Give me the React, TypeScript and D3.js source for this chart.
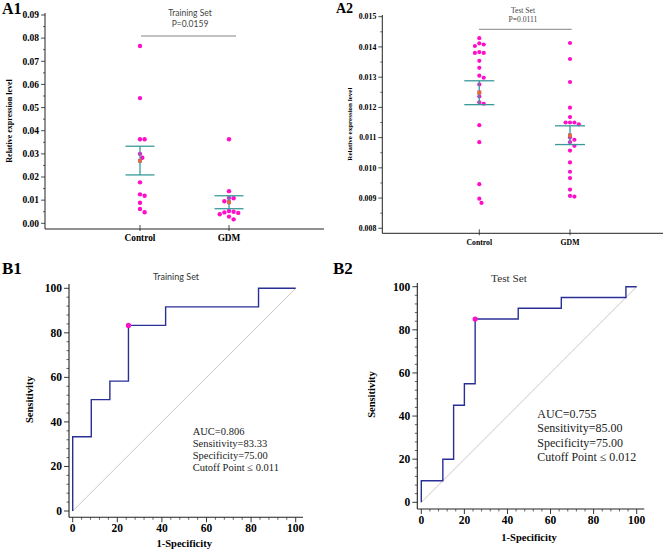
import React from "react";
import * as d3 from "d3";

// ---------- DATA ----------
const categories = ["Control", "GDM"];

// A1 – Training set relative expression
const trainControl = [0.0766, 0.0541, 0.0363, 0.0363, 0.03, 0.0283, 0.0177, 0.0125, 0.0119, 0.0089, 0.0062, 0.0048];
const trainGDM = [0.0363, 0.0139, 0.011, 0.0108, 0.0095, 0.0053, 0.005, 0.0047, 0.0045, 0.0039, 0.0029, 0.0017];
const trainCI = [
  [0.0209, 0.0333],
  [0.0063, 0.0119],
];
const trainYTicks = [0, 0.01, 0.02, 0.03, 0.04, 0.05, 0.06, 0.07, 0.08, 0.09];

// A2 – Test set relative expression
const testControl = [
  0.01429, 0.01412, 0.01408, 0.01403, 0.01383, 0.0138, 0.0138, 0.01354, 0.01331, 0.01305,
  0.01298, 0.01276, 0.01236, 0.01217, 0.01212, 0.01141, 0.01085, 0.00946, 0.00898, 0.00884,
];
const testGDM = [
  0.01413, 0.0136, 0.01284, 0.01199, 0.01168, 0.0115, 0.0115, 0.0115, 0.01144, 0.011,
  0.01093, 0.01085, 0.01073, 0.01057, 0.01018, 0.00987, 0.00966, 0.00928, 0.00907, 0.00905,
];
const testCI = [
  [0.01209, 0.01288],
  [0.01077, 0.01139],
];
const testYTicks = [0.008, 0.009, 0.01, 0.011, 0.012, 0.013, 0.014, 0.015];

// B1 – ROC training
const roc1FPR = [0, 0, 8.33, 8.33, 16.67, 16.67, 25, 25, 41.67, 41.67, 83.33, 83.33, 100];
const roc1TPR = [0, 33.33, 33.33, 50, 50, 58.33, 58.33, 83.33, 83.33, 91.67, 91.67, 100, 100];
const roc1Cut = [25, 83.33];
const roc1Text = ["AUC=0.806", "Sensitivity=83.33", "Specificity=75.00", "Cutoff Point \u2264 0.011"];

// B2 – ROC test
const roc2FPR = [0, 0, 10, 10, 15, 15, 20, 20, 25, 25, 45, 45, 65, 65, 95, 95, 100];
const roc2TPR = [0, 10, 10, 20, 20, 45, 45, 55, 55, 85, 85, 90, 90, 95, 95, 100, 100];
const roc2Cut = [25, 85];
const roc2Text = ["AUC=0.755", "Sensitivity=85.00", "Specificity=75.00", "Cutoff Point \u2264 0.012"];

const rocTicks = [0, 20, 40, 60, 80, 100];

// ---------- STYLE ----------
const SERIF = "'Liberation Serif', 'Times New Roman', serif";
const SANS = "Lato, 'Open Sans', sans-serif";
const PINK = "#ff0fc8";
const TEAL = "#3a9a9a";
const ORANGE = "#f06a1c";
const NAVY = "#2a2f96";

function swarm(values: number[], y: (v: number) => number, r: number) {
  const idx = values.map((v, i) => i).sort((a, b) => values[b] - values[a]);
  const placed: { x: number; y: number }[] = [];
  const out: number[] = new Array(values.length).fill(0);
  const step = r * 2.1;
  for (const i of idx) {
    const py = y(values[i]);
    const cands = [0];
    for (let k = 1; k < 8; k++) cands.push(k * step * 0.5, -k * step * 0.5);
    let chosen = 0;
    for (const c of cands) {
      if (placed.every((p) => Math.hypot(p.x - c, p.y - py) >= step * 0.98)) {
        chosen = c;
        break;
      }
    }
    placed.push({ x: chosen, y: py });
    out[i] = chosen;
  }
  return out;
}

type DotProps = {
  label: string;
  labelX: number;
  labelY: number;
  labelSize: number;
  groups: number[][];
  ci: number[][];
  yDomain: [number, number];
  yRange: [number, number];
  yTicks: number[];
  fmt: string;
  axisX: number;
  axisTop: number;
  axisY: number;
  axisRight: number;
  catX: [number, number];
  tickFont: number;
  catFont: number;
  titleFont: number;
  titleX: number;
  title: string[];
  titleY: number[];
  titleFamily: string;
  titleSize: number;
  titleCX: number;
  sigY: number;
  sigX: [number, number];
  r: number;
  capHalf: number;
};

function DotPanel(p: DotProps) {
  const y = d3.scaleLinear().domain(p.yDomain).range(p.yRange);
  const x = d3.scalePoint<string>().domain(categories).range(p.catX);
  const f = d3.format(p.fmt);
  const step = p.yTicks[1] - p.yTicks[0];
  const minor = p.yTicks.slice(0, -1).map((t) => t + step / 2);
  return (
    <g>
      <text x={p.labelX} y={p.labelY} fontFamily={SERIF} fontWeight="bold" fontSize={p.labelSize}>
        {p.label}
      </text>
      {/* axes */}
      <line x1={p.axisX} x2={p.axisX} y1={p.axisTop} y2={p.axisY} stroke="#222" strokeWidth={1} />
      <line x1={p.axisX} x2={p.axisRight} y1={p.axisY} y2={p.axisY} stroke="#222" strokeWidth={1} />
      {p.yTicks.map((t) => (
        <g key={t}>
          <line x1={p.axisX - 4} x2={p.axisX} y1={y(t)} y2={y(t)} stroke="#222" strokeWidth={0.8} />
          <text
            x={p.axisX - 6}
            y={y(t)}
            dy="0.35em"
            textAnchor="end"
            fontFamily={SERIF}
            fontWeight="bold"
            fontSize={p.tickFont}
          >
            {f(t)}
          </text>
        </g>
      ))}
      {minor.map((t) => (
        <line key={t} x1={p.axisX - 2} x2={p.axisX} y1={y(t)} y2={y(t)} stroke="#222" strokeWidth={0.7} />
      ))}
      {categories.map((c) => (
        <g key={c}>
          <line x1={x(c)} x2={x(c)} y1={p.axisY - 4} y2={p.axisY + 2} stroke="#222" strokeWidth={0.8} />
          <text
            x={x(c)}
            y={p.axisY + 9}
            dy="0.35em"
            textAnchor="middle"
            fontFamily={SERIF}
            fontWeight="bold"
            fontSize={p.catFont}
          >
            {c}
          </text>
        </g>
      ))}
      <text
        transform={`translate(${p.titleX},${(p.axisTop + p.axisY) / 2}) rotate(-90)`}
        textAnchor="middle"
        dy="0.35em"
        fontFamily={SERIF}
        fontWeight="bold"
        fontSize={p.titleFont}
      >
        Relative expression level
      </text>
      {/* significance */}
      {p.title.map((t, i) => (
        <text
          key={t}
          x={p.titleCX}
          y={p.titleY[i]}
          dy="0.35em"
          textAnchor="middle"
          fontFamily={p.titleFamily}
          fontSize={p.titleSize}
          fill="#444"
        >
          {t}
        </text>
      ))}
      <line x1={p.sigX[0]} x2={p.sigX[1]} y1={p.sigY} y2={p.sigY} stroke="#777" strokeWidth={0.9} />
      {/* points */}
      {p.groups.map((vals, gi) => {
        const cx = x(categories[gi]) as number;
        const offs = swarm(vals, y, p.r);
        const mean = d3.mean(vals) as number;
        const [lo, hi] = p.ci[gi];
        return (
          <g key={gi}>
            {vals.map((v, i) => (
              <circle key={i} cx={cx + offs[i]} cy={y(v)} r={p.r} fill={PINK} />
            ))}
            <line x1={cx} x2={cx} y1={y(hi)} y2={y(lo)} stroke={TEAL} strokeWidth={1.3} />
            <line x1={cx - p.capHalf} x2={cx + p.capHalf} y1={y(hi)} y2={y(hi)} stroke={TEAL} strokeWidth={1.3} />
            <line x1={cx - p.capHalf} x2={cx + p.capHalf} y1={y(lo)} y2={y(lo)} stroke={TEAL} strokeWidth={1.3} />
            <rect x={cx - 1.8} y={y(mean) - 1.8} width={3.6} height={3.6} fill={ORANGE} stroke="#a0509a" strokeWidth={0.4} />
          </g>
        );
      })}
    </g>
  );
}

type RocProps = {
  label: string;
  labelX: number;
  labelY: number;
  fpr: number[];
  tpr: number[];
  cut: number[];
  text: string[];
  xRange: [number, number];
  yRange: [number, number];
  axisX: number;
  axisY: number;
  axisTop: number;
  axisRight: number;
  title: string;
  titleFamily: string;
  titleSize: number;
  titleX: number;
  titleY: number;
  tickFont: number;
  axisFont: number;
  textX: number;
  textY: number;
  textGap: number;
  textSize: number;
  ylabX: number;
  xlabY: number;
};

function RocPanel(p: RocProps) {
  const x = d3.scaleLinear().domain([0, 100]).range(p.xRange);
  const y = d3.scaleLinear().domain([0, 100]).range(p.yRange);
  const minor = d3.range(0, 101, 4).filter((v) => v % 20 !== 0);
  const line = d3
    .line<number>()
    .x((_, i) => x(p.fpr[i]))
    .y((_, i) => y(p.tpr[i]));
  return (
    <g>
      <text x={p.labelX} y={p.labelY} fontFamily={SERIF} fontWeight="bold" fontSize={17}>
        {p.label}
      </text>
      <text x={p.titleX} y={p.titleY} dy="0.35em" textAnchor="middle" fontFamily={p.titleFamily} fontSize={p.titleSize} fill="#333">
        {p.title}
      </text>
      <line x1={p.axisX} x2={p.axisX} y1={p.axisTop} y2={p.axisY} stroke="#222" strokeWidth={1.1} />
      <line x1={p.axisX} x2={p.axisRight} y1={p.axisY} y2={p.axisY} stroke="#222" strokeWidth={1.1} />
      {rocTicks.map((t) => (
        <g key={t}>
          <line x1={p.axisX - 5} x2={p.axisX} y1={y(t)} y2={y(t)} stroke="#222" strokeWidth={0.9} />
          <text x={p.axisX - 7} y={y(t)} dy="0.35em" textAnchor="end" fontFamily={SERIF} fontWeight="bold" fontSize={p.tickFont}>
            {t}
          </text>
          <line x1={x(t)} x2={x(t)} y1={p.axisY} y2={p.axisY + 5} stroke="#222" strokeWidth={0.9} />
          <text x={x(t)} y={p.axisY + 11} dy="0.35em" textAnchor="middle" fontFamily={SERIF} fontWeight="bold" fontSize={p.tickFont}>
            {t}
          </text>
        </g>
      ))}
      {minor.map((t) => (
        <g key={t}>
          <line x1={p.axisX - 2.5} x2={p.axisX} y1={y(t)} y2={y(t)} stroke="#222" strokeWidth={0.7} />
          <line x1={x(t)} x2={x(t)} y1={p.axisY} y2={p.axisY + 2.5} stroke="#222" strokeWidth={0.7} />
        </g>
      ))}
      <text x={(p.xRange[0] + p.xRange[1]) / 2} y={p.xlabY} dy="0.35em" textAnchor="middle" fontFamily={SERIF} fontWeight="bold" fontSize={p.axisFont}>
        1-Specificity
      </text>
      <text
        transform={`translate(${p.ylabX},${(p.yRange[0] + p.yRange[1]) / 2}) rotate(-90)`}
        textAnchor="middle"
        dy="0.35em"
        fontFamily={SERIF}
        fontWeight="bold"
        fontSize={p.axisFont}
      >
        Sensitivity
      </text>
      <line x1={x(0)} y1={y(0)} x2={x(100)} y2={y(100)} stroke="#cbbcbc" strokeWidth={0.9} />
      <path d={line(p.fpr) || ""} fill="none" stroke={NAVY} strokeWidth={1.4} />
      <circle cx={x(p.cut[0])} cy={y(p.cut[1])} r={2.6} fill={PINK} />
      {p.text.map((t, i) => (
        <text key={t} x={p.textX} y={p.textY + i * p.textGap} dy="0.35em" fontFamily={SERIF} fontSize={p.textSize} fill="#222">
          {t}
        </text>
      ))}
    </g>
  );
}

export default function App() {
  return (
    <svg
      width={669}
      height={553}
      viewBox="0 0 669 553"
      style={{ position: "absolute", left: 0, top: 0, background: "#fff" }}
    >
      <rect width={669} height={553} fill="#fff" />
      <DotPanel
        label="A1"
        labelX={2}
        labelY={14}
        labelSize={16}
        groups={[trainControl, trainGDM]}
        ci={trainCI}
        yDomain={[0, 0.09]}
        yRange={[223.3, 15]}
        yTicks={trainYTicks}
        fmt=".2f"
        axisX={45}
        axisTop={13}
        axisY={229}
        axisRight={324}
        catX={[140, 229]}
        tickFont={9.5}
        catFont={9.3}
        titleFont={8}
        titleX={9.5}
        title={["Training Set", "P=0.0159"]}
        titleY={[13, 24]}
        titleFamily={SANS}
        titleSize={8.5}
        titleCX={190}
        sigY={36}
        sigX={[141, 236]}
        r={2.2}
        capHalf={14.5}
      />
      <DotPanel
        label="A2"
        labelX={336}
        labelY={13}
        labelSize={14}
        groups={[testControl, testGDM]}
        ci={testCI}
        yDomain={[0.008, 0.015]}
        yRange={[228.3, 16.7]}
        yTicks={testYTicks}
        fmt=".3f"
        axisX={382.3}
        axisTop={15}
        axisY={233.3}
        axisRight={663}
        catX={[479.3, 570]}
        tickFont={7.8}
        catFont={7.7}
        titleFont={7}
        titleX={350}
        title={["Test Set", "P=0.0111"]}
        titleY={[10, 19.5]}
        titleFamily={SERIF}
        titleSize={7.6}
        titleCX={523}
        sigY={29.3}
        sigX={[479, 571.7]}
        r={2.1}
        capHalf={15}
      />
      <RocPanel
        label="B1"
        labelX={2}
        labelY={274}
        fpr={roc1FPR}
        tpr={roc1TPR}
        cut={roc1Cut}
        text={roc1Text}
        xRange={[72.7, 295.7]}
        yRange={[511, 288.3]}
        axisX={69}
        axisY={517.3}
        axisTop={284}
        axisRight={303}
        title="Training Set"
        titleFamily={SANS}
        titleSize={9}
        titleX={176}
        titleY={277.3}
        tickFont={11.5}
        axisFont={10.5}
        textX={192.7}
        textY={431.7}
        textGap={12}
        textSize={10.5}
        ylabX={29.3}
        xlabY={543.3}
      />
      <RocPanel
        label="B2"
        labelX={333}
        labelY={274}
        fpr={roc2FPR}
        tpr={roc2TPR}
        cut={roc2Cut}
        text={roc2Text}
        xRange={[421.3, 636.7]}
        yRange={[502.3, 286.7]}
        axisX={417.3}
        axisY={509}
        axisTop={283}
        axisRight={644.3}
        title="Test Set"
        titleFamily={SERIF}
        titleSize={11.3}
        titleX={509}
        titleY={278.3}
        tickFont={11.5}
        axisFont={10.5}
        textX={537.3}
        textY={414}
        textGap={14.2}
        textSize={12}
        ylabX={371.7}
        xlabY={537.7}
      />
    </svg>
  );
}
